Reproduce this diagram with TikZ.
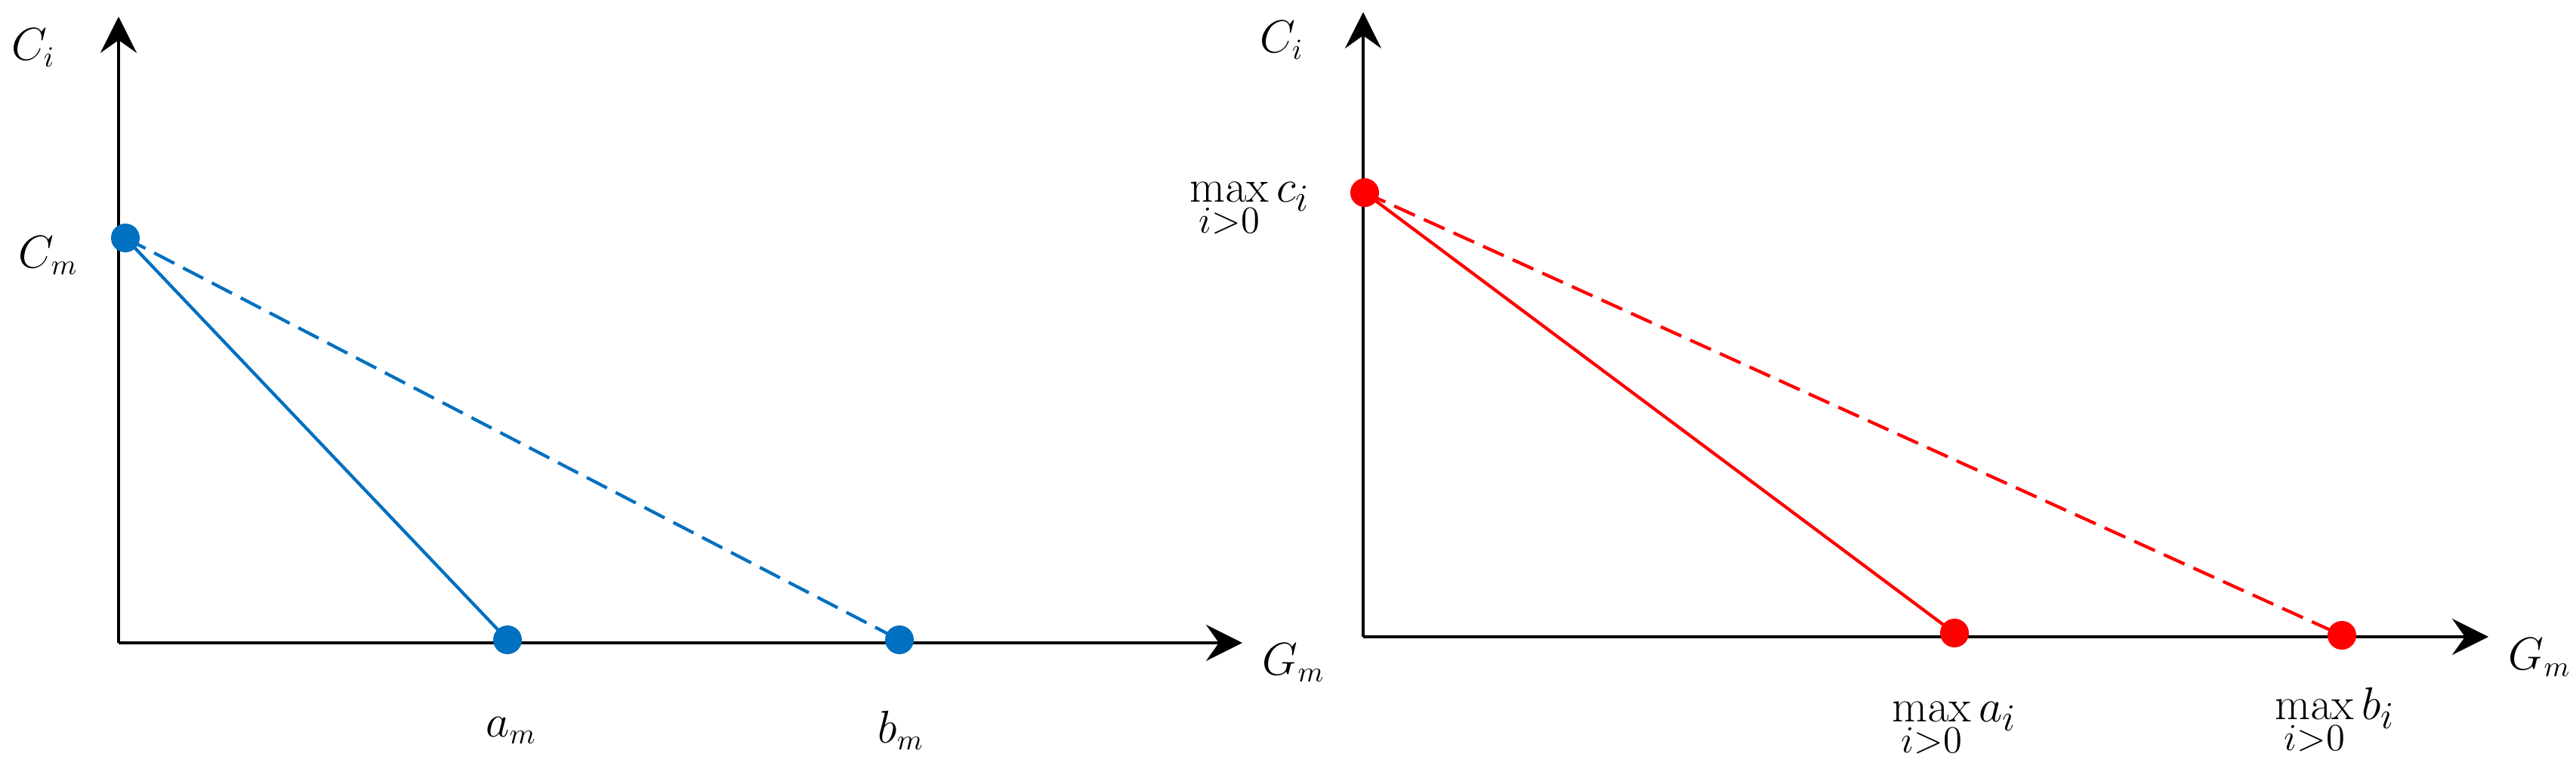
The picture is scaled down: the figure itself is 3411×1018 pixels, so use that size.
\documentclass[tikz,border=0pt]{standalone}
\usetikzlibrary{arrows.meta}
\definecolor{myblue}{HTML}{0070C0}
\definecolor{myred}{HTML}{FF0000}
\newcommand{\mysubgap}{\rule{0pt}{1.25ex}}
\begin{document}
\begin{tikzpicture}[x=0.01cm,y=-0.01cm,
  axis/.style={line width=1.2pt,black,-{Stealth[length=0.48cm,width=0.48cm,inset=0.17cm]}},
  dotb/.style={circle,fill=myblue,inner sep=0pt,minimum size=0.38cm},
  dotr/.style={circle,fill=myred,inner sep=0pt,minimum size=0.38cm},
  lineb/.style={line width=1.2pt,myblue},
  liner/.style={line width=1.2pt,myred},
  dsh/.style={dash pattern=on 0.3cm off 0.13cm},
  lbl/.style={inner sep=0pt,font=\fontsize{16}{19}\selectfont},
  maxlbl/.style={inner sep=0pt,font=\fontsize{19}{22}\selectfont}]
\useasboundingbox (0,0) rectangle (3411,1018);
% left panel
\coordinate (O1) at (157,851);
\coordinate (Y1) at (157,22);
\coordinate (X1) at (1645,851);
\draw[axis] (O1) -- (Y1);
\draw[axis] (O1) -- (X1);
\node[dotb] (cm) at (166,315) {};
\node[dotb] (am) at (672,847) {};
\node[dotb] (bm) at (1191,847) {};
\draw[lineb] (cm.center) -- (am.center);
\draw[lineb,dsh] (cm.center) -- (bm.center);
\node[lbl] (ci1) at (44,63) {$C_i$};
\node[lbl] (cml) at (64,338) {$C_m$};
\node[lbl] (aml) at (677,967) {$a_m$};
\node[lbl] (bml) at (1193,967) {$b_m$};
\node[lbl] (gm1) at (1713,877) {$G_m$};
% right panel
\coordinate (O2) at (1805,843);
\coordinate (Y2) at (1805,16);
\coordinate (X2) at (3295,843);
\draw[axis] (O2) -- (Y2);
\draw[axis] (O2) -- (X2);
\node[dotr] (mc) at (1807,255) {};
\node[dotr] (ma) at (2588,838) {};
\node[dotr] (mb) at (3101,841) {};
\draw[liner] (mc.center) -- (ma.center);
\draw[liner,dsh] (mc.center) -- (mb.center);
\node[lbl] (ci2) at (1697,53) {$C_i$};
\node[maxlbl,anchor=base east] (mcl) at (1735,267) {$\displaystyle\max_{\mysubgap i>0} c_i$};
\node[maxlbl,anchor=base] (mal) at (2588,955) {$\displaystyle\max_{\mysubgap i>0} a_i$};
\node[maxlbl,anchor=base] (mbl) at (3092,952) {$\displaystyle\max_{\mysubgap i>0} b_i$};
\node[lbl] (gm2) at (3363,870) {$G_m$};
\end{tikzpicture}
\end{document}
